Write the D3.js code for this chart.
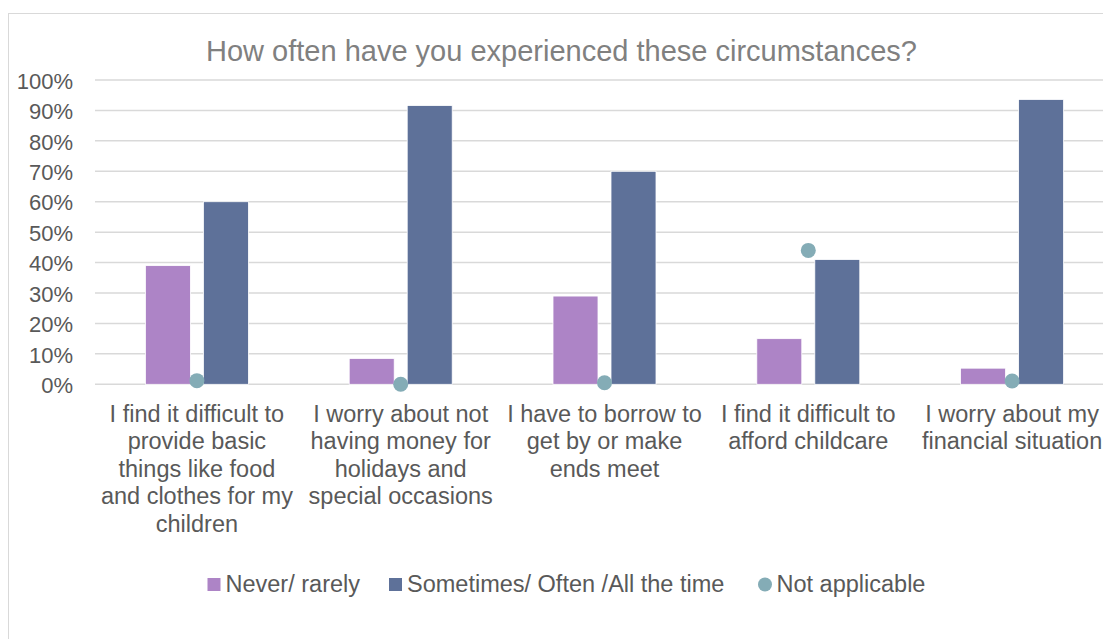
<!DOCTYPE html>
<html>
<head>
<meta charset="utf-8">
<script src="https://cdn.jsdelivr.net/npm/d3@7"></script>
<style>
  html, body { margin: 0; padding: 0; background: #fff; }
  svg { display: block; font-family: "Liberation Sans", Arial, sans-serif; }
</style>
</head>
<body>
<svg id="chart" width="1103" height="639"></svg>
<script>
// Survey categories (label lines as shown under each group)
const categories = [
  "I find it difficult to provide basic things like food and clothes for my children",
  "I worry about not having money for holidays and special occasions",
  "I have to borrow to get by or make ends meet",
  "I find it difficult to afford childcare",
  "I worry about my financial situation"
];
const categoryLines = [
  ["I find it difficult to", "provide basic", "things like food", "and clothes for my", "children"],
  ["I worry about not", "having money for", "holidays and", "special occasions"],
  ["I have to borrow to", "get by or make", "ends meet"],
  ["I find it difficult to", "afford childcare"],
  ["I worry about my", "financial situation"]
];

// Series values, percent of respondents
const neverRarely = [39, 8.5, 29, 15, 5.3];
const sometimesOften = [60, 91.6, 70, 41, 93.6];
const notApplicable = [1.2, 0, 0.5, 44, 1.1];

const seriesNames = ["Never/ rarely", "Sometimes/ Often /All the time", "Not applicable"];
const yTicks = [0, 10, 20, 30, 40, 50, 60, 70, 80, 90, 100];
const title = "How often have you experienced these circumstances?";

const colors = { never: "#ad84c6", sometimes: "#5e7199", na: "#84acb6" };
const textColor = "#595959";

const svg = d3.select("#chart");

// chart frame
svg.append("rect")
  .attr("x", 8.5).attr("y", 13.5)
  .attr("width", 1120).attr("height", 660)
  .attr("fill", "#fff").attr("stroke", "#d9d9d9").attr("stroke-width", 1);

const plot = { left: 95, right: 1114, top: 80, bottom: 384.3 };

const x = d3.scaleBand().domain(categories).range([plot.left, plot.right]).padding(0);
const y = d3.scaleLinear().domain([0, 100]).range([plot.bottom, plot.top]);

// gridlines
svg.append("g")
  .selectAll("line").data(yTicks).join("line")
  .attr("x1", plot.left).attr("x2", plot.right)
  .attr("y1", d => y(d)).attr("y2", d => y(d))
  .attr("stroke", "#d9d9d9").attr("stroke-width", 1.5);

// y axis labels
const yAxis = d3.axisLeft(y).tickValues(yTicks).tickFormat(d => d + "%").tickSize(0).tickPadding(0);
const yg = svg.append("g").attr("transform", "translate(73,0)").call(yAxis);
yg.select(".domain").remove();
yg.selectAll("text")
  .attr("font-size", 22).attr("fill", textColor).attr("dy", "0.37em")
  .attr("font-family", "Liberation Sans, Arial, sans-serif");

// bars
const barW = 45, gap = 13;
const cx = d => x(d) + x.bandwidth() / 2;

svg.append("g").selectAll("rect").data(categories).join("rect")
  .attr("x", d => cx(d) - gap / 2 - barW)
  .attr("width", barW)
  .attr("y", (d, i) => y(neverRarely[i]))
  .attr("height", (d, i) => y(0) - y(neverRarely[i]))
  .attr("fill", colors.never).attr("stroke", "#fff").attr("stroke-width", 0.8);

svg.append("g").selectAll("rect").data(categories).join("rect")
  .attr("x", d => cx(d) + gap / 2)
  .attr("width", barW)
  .attr("y", (d, i) => y(sometimesOften[i]))
  .attr("height", (d, i) => y(0) - y(sometimesOften[i]))
  .attr("fill", colors.sometimes).attr("stroke", "#fff").attr("stroke-width", 0.8);

// not applicable markers
svg.append("g").selectAll("circle").data(categories).join("circle")
  .attr("cx", d => cx(d))
  .attr("cy", (d, i) => y(notApplicable[i]))
  .attr("r", 7.5)
  .attr("fill", colors.na);

// category labels
const lab = svg.append("g");
categories.forEach((c, i) => {
  const t = lab.append("text")
    .attr("x", cx(c)).attr("y", 421.5)
    .attr("text-anchor", "middle")
    .attr("font-size", 23.5).attr("fill", textColor);
  categoryLines[i].forEach((line, j) => {
    t.append("tspan").attr("x", cx(c)).attr("dy", j === 0 ? 0 : 27.5).text(line);
  });
});

// title
svg.append("text")
  .attr("x", 561.5).attr("y", 61)
  .attr("text-anchor", "middle")
  .attr("font-size", 29).attr("fill", "#808080")
  .text(title);

// legend
const legend = svg.append("g").attr("font-size", 23.5).attr("fill", textColor);
const legendItems = [
  { name: seriesNames[0], color: colors.never, shape: "rect", x: 207.5 },
  { name: seriesNames[1], color: colors.sometimes, shape: "rect", x: 389 },
  { name: seriesNames[2], color: colors.na, shape: "circle", x: 758.5 }
];
legendItems.forEach(it => {
  if (it.shape === "rect") {
    legend.append("rect").attr("x", it.x).attr("y", 578).attr("width", 13).attr("height", 13).attr("fill", it.color);
  } else {
    legend.append("circle").attr("cx", it.x + 6.5).attr("cy", 584.5).attr("r", 7).attr("fill", it.color);
  }
  legend.append("text").attr("x", it.x + 18).attr("y", 592).attr("fill", textColor).text(it.name);
});
</script>
</body>
</html>
